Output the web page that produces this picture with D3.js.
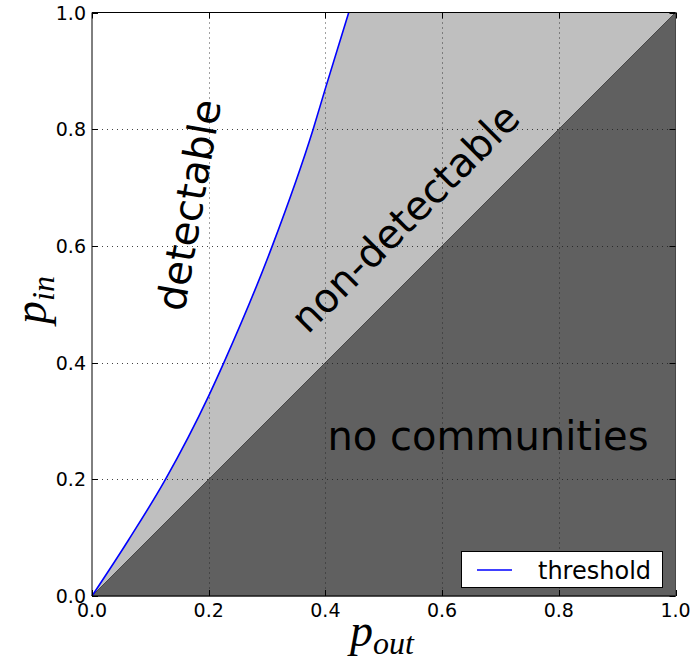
<!DOCTYPE html>
<html>
<head>
<meta charset="utf-8">
<script src="https://cdn.jsdelivr.net/npm/d3@7"></script>
<style>
  html, body { margin: 0; padding: 0; background: #fff; }
  svg { display: block; }
</style>
</head>
<body>
<svg id="chart" width="693" height="660"></svg>
<script>
// Detectability threshold for the two-group block model (p_out, p_in)
const thresholdPOut = [0, 0.0626, 0.1254, 0.2, 0.226, 0.309, 0.379, 0.4, 0.44];
const thresholdPIn  = [0, 0.096, 0.199, 0.343, 0.4, 0.6, 0.8, 0.87, 1.0];

const xTicks = [0, 0.2, 0.4, 0.6, 0.8, 1.0];
const yTicks = [0, 0.2, 0.4, 0.6, 0.8, 1.0];
const regionLabels = ["detectable", "non-detectable", "no communities"];
const legendLabels = ["threshold"];

const svg = d3.select("#chart");
const plotLeft = 92, plotRight = 675.5, plotTop = 12.5, plotBottom = 596;

const x = d3.scaleLinear().domain([0, 1]).range([plotLeft, plotRight]);
const y = d3.scaleLinear().domain([0, 1]).range([plotBottom, plotTop]);

const pts = thresholdPOut.map((d, i) => [d, thresholdPIn[i]]);
const line = d3.line().x(d => x(d[0])).y(d => y(d[1])).curve(d3.curveMonotoneX);

// Background regions
svg.append("rect").attr("x", plotLeft).attr("y", plotTop)
  .attr("width", plotRight - plotLeft).attr("height", plotBottom - plotTop).attr("fill", "#fff");

// non-detectable band: between diagonal and threshold curve
svg.append("path")
  .attr("d", line(pts) + `L${x(1)},${y(1)}Z`)
  .attr("fill", "#bfbfbf");

// no communities: below diagonal
svg.append("path")
  .attr("d", `M${x(0)},${y(0)}L${x(1)},${y(0)}L${x(1)},${y(1)}Z`)
  .attr("fill", "#606060")
  .attr("stroke", "#484848").attr("stroke-width", 1);

// Grid
const grid = svg.append("g").attr("stroke", "#222").attr("stroke-width", 1)
  .attr("stroke-dasharray", "1,4").attr("opacity", 0.85);
xTicks.slice(1, -1).forEach(t => grid.append("line")
  .attr("x1", Math.round(x(t)) + 0.5).attr("x2", Math.round(x(t)) + 0.5)
  .attr("y1", plotTop).attr("y2", plotBottom));
yTicks.slice(1, -1).forEach(t => grid.append("line")
  .attr("y1", Math.round(y(t)) + 0.5).attr("y2", Math.round(y(t)) + 0.5)
  .attr("x1", plotLeft).attr("x2", plotRight));

// Threshold curve
svg.append("path")
  .attr("d", line(pts))
  .attr("fill", "none").attr("stroke", "#0000ff").attr("stroke-width", 1.6);

// Region labels
const labelFont = "'DejaVu Sans', sans-serif";
svg.append("text")
  .attr("transform", "translate(189,205) rotate(-80)")
  .attr("text-anchor", "middle").attr("dominant-baseline", "central")
  .attr("font-family", labelFont).attr("font-size", 40).attr("fill", "#000")
  .text(regionLabels[0]);
svg.append("text")
  .attr("transform", "translate(405,218) rotate(-45)")
  .attr("text-anchor", "middle").attr("dominant-baseline", "central")
  .attr("font-family", labelFont).attr("font-size", 40).attr("fill", "#000")
  .text(regionLabels[1]);
svg.append("text")
  .attr("x", 488).attr("y", 450)
  .attr("text-anchor", "middle")
  .attr("font-family", labelFont).attr("font-size", 40).attr("fill", "#000")
  .text(regionLabels[2]);

// Axes (ticks inside on all sides)
const tickLen = 6;
const axes = svg.append("g").attr("stroke", "#000").attr("stroke-width", 1);
xTicks.forEach(t => {
  const px = Math.round(x(t)) + 0.5;
  axes.append("line").attr("x1", px).attr("x2", px).attr("y1", plotBottom).attr("y2", plotBottom - tickLen);
  axes.append("line").attr("x1", px).attr("x2", px).attr("y1", plotTop).attr("y2", plotTop + tickLen);
});
yTicks.forEach(t => {
  const py = Math.round(y(t)) + 0.5;
  axes.append("line").attr("y1", py).attr("y2", py).attr("x1", plotLeft).attr("x2", plotLeft + tickLen);
  axes.append("line").attr("y1", py).attr("y2", py).attr("x1", plotRight).attr("x2", plotRight - tickLen);
});
axes.append("line").attr("x1", plotLeft).attr("x2", plotLeft).attr("y1", plotTop).attr("y2", plotBottom);
axes.append("line").attr("x1", plotLeft).attr("x2", plotRight).attr("y1", plotTop).attr("y2", plotTop);
axes.append("line").attr("x1", plotLeft).attr("x2", plotRight).attr("y1", plotBottom).attr("y2", plotBottom);

const fmt = d3.format(".1f");
const tickFont = { family: "'DejaVu Sans', sans-serif", size: 19 };
svg.append("g").selectAll("text").data(xTicks).join("text")
  .attr("x", d => x(d)).attr("y", 617)
  .attr("text-anchor", "middle")
  .attr("font-family", tickFont.family).attr("font-size", tickFont.size)
  .text(fmt);
svg.append("g").selectAll("text").data(yTicks).join("text")
  .attr("x", 86).attr("y", d => y(d))
  .attr("text-anchor", "end").attr("dominant-baseline", "central")
  .attr("font-family", tickFont.family).attr("font-size", tickFont.size)
  .text(fmt);

// Axis titles
const mathFont = "'Liberation Serif', 'DejaVu Serif', serif";
const xt = svg.append("text")
  .attr("x", 382).attr("y", 646)
  .attr("text-anchor", "middle")
  .attr("font-family", mathFont).attr("font-style", "italic").attr("font-size", 46);
xt.append("tspan").text("p");
xt.append("tspan").attr("font-size", 32).attr("dy", 8).text("out");

const yt = svg.append("text")
  .attr("transform", "translate(46,300) rotate(-90)")
  .attr("text-anchor", "middle")
  .attr("font-family", mathFont).attr("font-style", "italic").attr("font-size", 46);
yt.append("tspan").text("p");
yt.append("tspan").attr("font-size", 32).attr("dy", 8).text("in");

// Legend
const lg = svg.append("g");
lg.append("rect").attr("x", 461.5).attr("y", 551.5).attr("width", 201).attr("height", 36)
  .attr("fill", "#fff").attr("stroke", "#000").attr("stroke-width", 1);
lg.append("line").attr("x1", 477).attr("x2", 512).attr("y1", 570).attr("y2", 570)
  .attr("stroke", "#0000ff").attr("stroke-width", 1.6);
lg.append("text").attr("x", 538).attr("y", 578.5)
  .attr("font-family", "'DejaVu Sans', sans-serif").attr("font-size", 24)
  .text(legendLabels[0]);
</script>
</body>
</html>
